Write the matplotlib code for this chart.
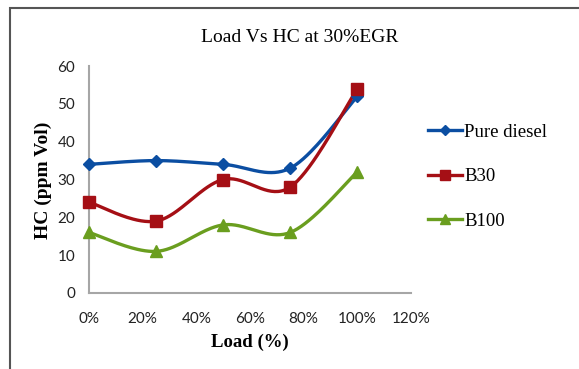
import numpy as np
import matplotlib
matplotlib.use("Agg")
import matplotlib.pyplot as plt
from matplotlib.patches import Rectangle
from matplotlib.ticker import PercentFormatter

load = [0.0, 0.25, 0.50, 0.75, 1.00]
pure_diesel = [34, 35, 34, 33, 52]
b30 = [24, 19, 30, 28, 54]
b100 = [16, 11, 18, 16, 32]
series_names = ["Pure diesel", "B30", "B100"]
title = "Load Vs HC at 30%EGR"
xlabel = "Load (%)"
ylabel = "HC (ppm Vol)"


def smooth(x, y, n=40, t=1/6):
    """Excel-like smoothed line: cubic Bezier segments with Catmull-Rom control points."""
    x = np.asarray(x, float); y = np.asarray(y, float)
    px, py = [], []
    m = len(x)
    for i in range(m - 1):
        x0, y0 = (x[i - 1], y[i - 1]) if i > 0 else (x[i], y[i])
        x3, y3 = (x[i + 2], y[i + 2]) if i + 2 < m else (x[i + 1], y[i + 1])
        c1x = x[i] + (x[i + 1] - x0) * t
        c1y = y[i] + (y[i + 1] - y0) * t
        c2x = x[i + 1] - (x3 - x[i]) * t
        c2y = y[i + 1] - (y3 - y[i]) * t
        s = np.linspace(0, 1, n)
        bx = (1 - s) ** 3 * x[i] + 3 * (1 - s) ** 2 * s * c1x + 3 * (1 - s) * s ** 2 * c2x + s ** 3 * x[i + 1]
        by = (1 - s) ** 3 * y[i] + 3 * (1 - s) ** 2 * s * c1y + 3 * (1 - s) * s ** 2 * c2y + s ** 3 * y[i + 1]
        px.extend(bx); py.extend(by)
    return np.array(px), np.array(py)


fig = plt.figure(figsize=(5.79, 3.69), dpi=100)
ax = fig.add_axes([89 / 579, 1 - 293 / 369, (411 - 89) / 579, (293 - 66) / 369])

styles = [
    (pure_diesel, "#0B4EA2", "D", 6.5),
    (b30, "#A50F15", "s", 9),
    (b100, "#6A9E1F", "^", 9),
]
handles = []
for (vals, col, mk, ms), name in zip(styles, series_names):
    sx, sy = smooth(load, vals)
    ax.plot(sx, sy, color=col, lw=2.4, zorder=2, solid_capstyle="round", clip_on=False)
    ax.plot(load, vals, ls="none", marker=mk, ms=ms, color=col, zorder=3, clip_on=False)
    h, = ax.plot([], [], color=col, lw=2.4, marker=mk, ms=ms * 0.85)
    handles.append(h)

ax.set_xlim(0, 1.2)
ax.set_ylim(0, 60)
ax.set_xticks(np.arange(0, 1.21, 0.2))
ax.set_yticks(np.arange(0, 61, 10))
ax.xaxis.set_major_formatter(PercentFormatter(xmax=1, decimals=0))
for s in ["top", "right"]:
    ax.spines[s].set_visible(False)
for s in ["left", "bottom"]:
    ax.spines[s].set_color("#A6A6A6")
    ax.spines[s].set_linewidth(1.5)
    ax.spines[s].set_zorder(1)
ax.tick_params(length=0, labelsize=11, colors="#222222")
ax.tick_params(axis="x", pad=14)
ax.tick_params(axis="y", pad=10)
for lab in ax.get_xticklabels() + ax.get_yticklabels():
    lab.set_fontfamily("Lato")

fig.text(300 / 579, 1 - 37 / 369, title, ha="center", va="center",
         family="Liberation Serif", fontsize=14)
fig.text(250 / 579, 1 - 342 / 369, xlabel, ha="center", va="center",
         family="Liberation Serif", fontsize=13.5, fontweight="bold")
fig.text(43 / 579, 1 - 180 / 369, ylabel, ha="center", va="center", rotation=90,
         family="Liberation Serif", fontsize=14, fontweight="bold")

leg = fig.legend(handles, series_names, loc="upper left",
                 bbox_to_anchor=(411 / 579, 1 - 107 / 369), frameon=False,
                 prop={"family": "Liberation Serif", "size": 13.5},
                 handlelength=1.8, handletextpad=0.15, labelspacing=1.45)

fig.patches.append(Rectangle((10 / 579, -0.2), 1.2, 1 - 8.5 / 369 + 0.2,
                             transform=fig.transFigure, fill=False,
                             edgecolor="#555555", lw=1.5))

fig.savefig("out.png", dpi=100)
